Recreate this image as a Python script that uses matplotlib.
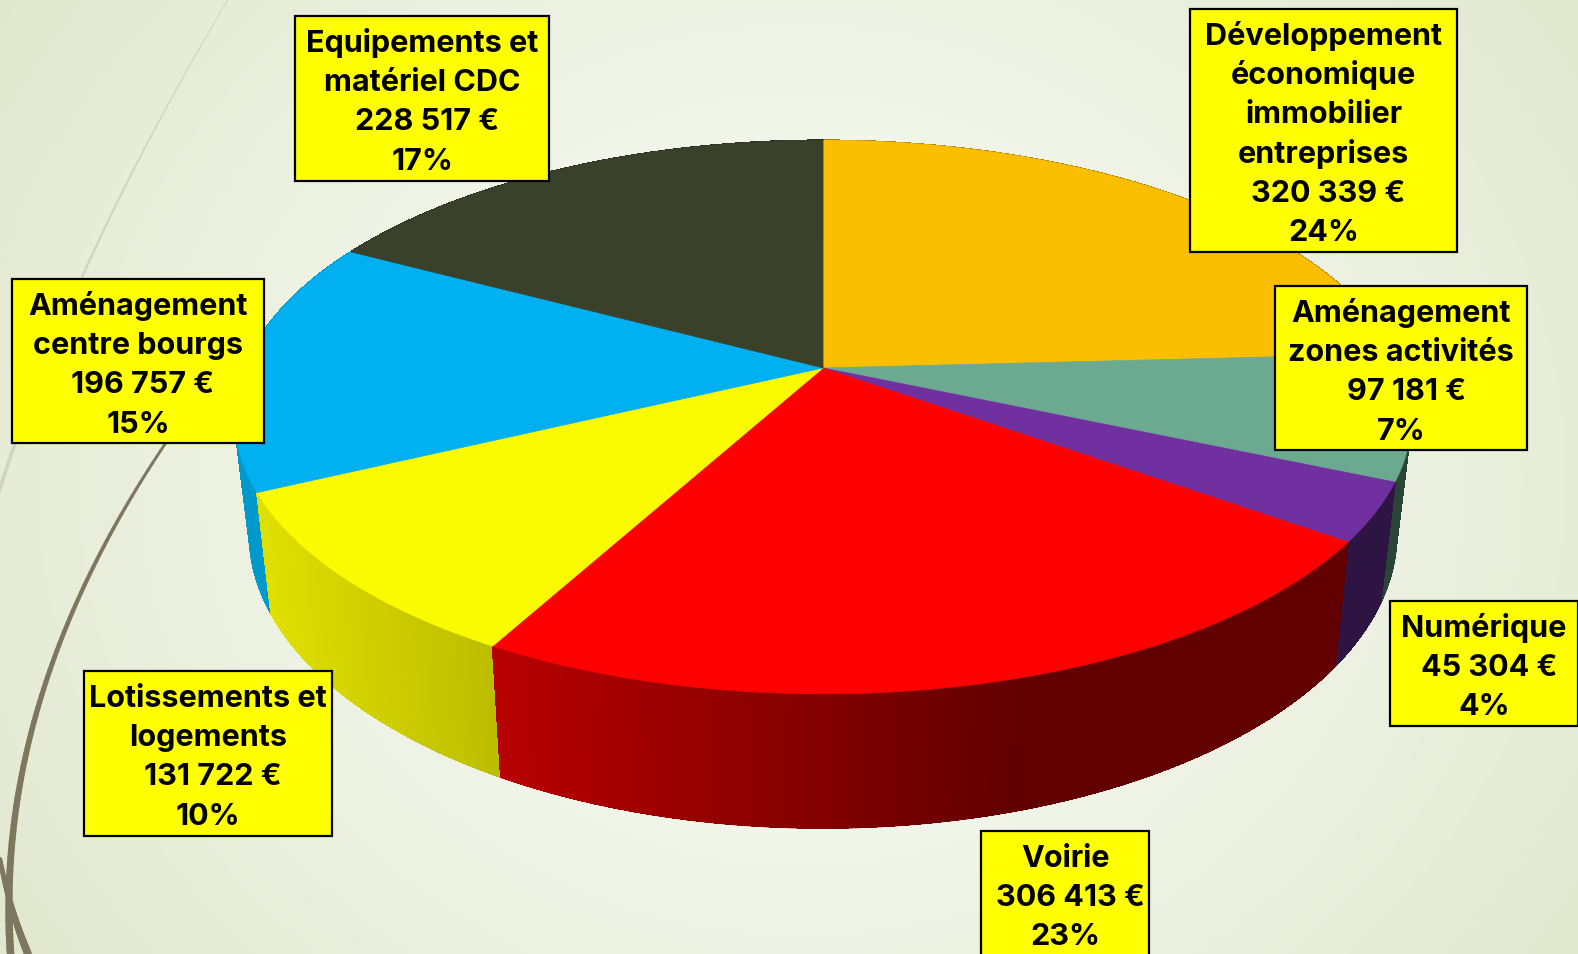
import matplotlib
matplotlib.use("Agg")
import matplotlib.pyplot as plt
import numpy as np
from matplotlib.collections import LineCollection
from matplotlib.patches import Polygon, Rectangle

# Donnees
categories = [
    "Développement\néconomique\nimmobilier\nentreprises",
    "Aménagement\nzones activités",
    "Numérique",
    "Voirie",
    "Lotissements et\nlogements",
    "Aménagement\ncentre bourgs",
    "Equipements et\nmatériel CDC",
]
montants = [320339, 97181, 45304, 306413, 131722, 196757, 228517]
pourcents = [24, 7, 4, 23, 10, 15, 17]

couleurs = ["#FCBF00", "#6BAA90", "#7030A0", "#FF0000", "#FAFA00", "#00B0F0", "#3A412B"]
# couleur du flanc : a gauche, a droite
flancs = [
    ("#B08400", "#B08400"),
    ("#2A4438", "#2A4438"),
    ("#2E1442", "#2E1442"),
    ("#B80000", "#620000"),
    ("#E0E000", "#BDBD00"),
    ("#0099CC", "#0090C0"),
    ("#2A2F1F", "#2A2F1F"),
]
# boites : x0, y0, x1, y1
boites = [
    (1190, 9, 1457, 252),
    (1275, 286, 1527, 450),
    (1390, 601, 1578, 726),
    (981, 831, 1149, 960),
    (84, 671, 332, 836),
    (12, 279, 264, 443),
    (295, 16, 549, 181),
]

W, H = 1578, 954
CX, CY = 823, 368


def projeter(angle, rayon=1.0):
    # cercle du dessus vu en perspective, angle depuis le haut en sens horaire
    u = rayon * np.sin(angle)
    v = rayon * np.cos(angle)
    d = 1 + 0.1775 * v
    return CX + 579 * u / d, CY - 268 * v / d


def projeter_bas(x, y):
    return CX + (x - CX) * 0.975, y + 121 + (y - 493) * 0.065


def melange(c1, c2, t):
    a = np.array(matplotlib.colors.to_rgb(c1))
    b = np.array(matplotlib.colors.to_rgb(c2))
    return tuple(a + (b - a) * t)


fig = plt.figure(figsize=((W + 0.1) / 100, (H + 0.1) / 100), dpi=100)
ax = fig.add_axes([0, 0, 1, 1])
ax.set_xlim(0, W)
ax.set_ylim(H, 0)
ax.axis("off")

# fond en degrade
xx, yy = np.meshgrid(np.arange(0, W, 4), np.arange(0, H, 4))
dist = np.clip(np.hypot((xx - 800) / 860, (yy - 480) / 760), 0, 1.15) / 1.15
haut = np.array([250, 252, 247]) / 255
bas = np.array([224, 231, 205]) / 255
fond = haut + (bas - haut) * (dist[..., None] ** 1.3)
ax.imshow(fond, extent=[0, W, H, 0], aspect="auto", zorder=0)


def courbe(ys, xs, l1, l2, couleur):
    p = np.polyfit(ys, xs, 3)
    yy2 = np.linspace(min(ys), max(ys), 80)
    pts = np.column_stack([np.polyval(p, yy2), yy2])
    seg = np.stack([pts[:-1], pts[1:]], axis=1)
    ax.add_collection(LineCollection(seg, linewidths=np.linspace(l1, l2, 79),
                                     colors=couleur, zorder=1, capstyle="round"))


courbe([0, 150, 296, 444, 492], [228, 143, 75, 13, 0], 0.6, 2.6, "#D2D3C2")
courbe([444, 555, 640, 739, 838, 912, 954], [165, 100, 60, 30, 13, 8, 11], 2, 5.5, "#7E7760")
courbe([859, 912, 954], [0, 13, 28], 3, 5.5, "#7E7760")

# angles des parts
total = sum(montants)
bords = np.concatenate([[0], np.cumsum(montants)]) / total * 2 * np.pi

# flancs, de l'arriere vers l'avant
bandes = []
for i in range(len(montants)):
    angles = np.linspace(bords[i], bords[i + 1], max(int(montants[i] / 1500), 6))
    for a1, a2 in zip(angles[:-1], angles[1:]):
        x1, y1 = projeter(a1)
        x2, y2 = projeter(a2)
        x3, y3 = projeter_bas(x2, y2)
        x4, y4 = projeter_bas(x1, y1)
        xm = (x1 + x2) / 2
        xa, xb = projeter(bords[i + 1])[0], projeter(bords[i])[0]
        # degrade de gauche a droite sur la part
        if i == 3:
            t = np.clip((xm - 495) / 520, 0, 1)
        else:
            t = np.clip((xm - min(xa, xb)) / max(abs(xb - xa), 1), 0, 1)
        c = melange(flancs[i][0], flancs[i][1], t)
        bandes.append((np.cos((a1 + a2) / 2), [(x1, y1), (x2, y2), (x3, y3), (x4, y4)], c))

for _, pts, c in sorted(bandes, key=lambda b: -b[0]):
    ax.add_patch(Polygon(pts, closed=True, facecolor=c, edgecolor=c, lw=0.6, zorder=2,
                         antialiased=False))
    # bord bas lisse
    ax.plot([pts[2][0], pts[3][0]], [pts[2][1], pts[3][1]], color=c, lw=1.2, zorder=2,
            solid_capstyle="round")

# dessus
for i in range(len(montants)):
    angles = np.linspace(bords[i], bords[i + 1], 120)
    x, y = projeter(angles)
    pts = [(CX, CY)] + list(zip(x, y))
    ax.add_patch(Polygon(pts, closed=True, facecolor=couleurs[i], edgecolor=couleurs[i],
                         lw=0.5, zorder=3))

# etiquettes
for cat, val, pct, b in zip(categories, montants, pourcents, boites):
    x0, y0, x1, y1 = b
    ax.add_patch(Rectangle((x0, y0), x1 - x0, y1 - y0, facecolor="#FFFF00", edgecolor="black",
                           lw=1.6, zorder=5))
    lignes = cat.split("\n") + [f"{val:,}".replace(",", " ") + " €", f"{pct}%"]
    xc = (x0 + x1) / 2
    for j, ligne in enumerate(lignes):
        dx = 5 if j == len(lignes) - 2 else 0
        ax.text(xc + dx, y0 + 36 + 39.2 * j, ligne, ha="center", va="baseline", zorder=6,
                fontsize=22, fontweight="bold", family="Inter", color="black")

fig.savefig("out.png", dpi=100)
